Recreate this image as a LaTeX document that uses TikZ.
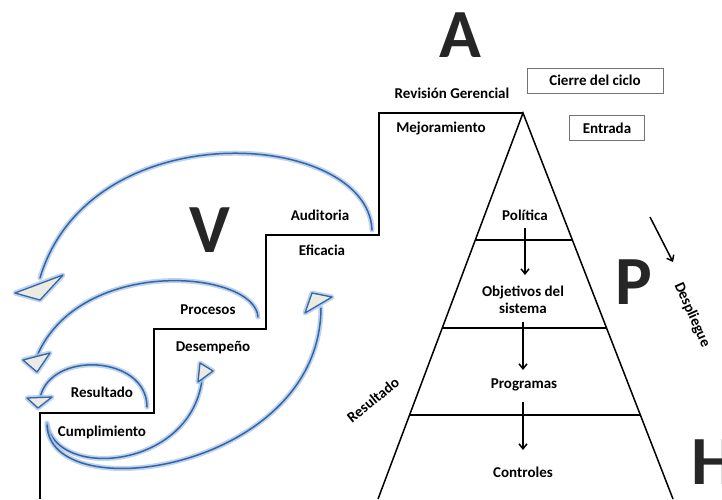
\documentclass[tikz,border=0pt]{standalone}
\usepackage{fontspec}
\setmainfont{Carlito}
\usetikzlibrary{arrows.meta,calc}
\definecolor{bluel}{HTML}{3465A4}
\definecolor{glowc}{HTML}{A9C4E8}
\definecolor{headf}{HTML}{ECEBE3}
\begin{document}
\begin{tikzpicture}[x=1pt,y=-1pt,
  lbl/.style={font=\bfseries\fontsize{15}{17}\selectfont, inner sep=0pt, align=center},
  big/.style={font=\bfseries\fontsize{69}{69}\selectfont, text=black!85, inner sep=0pt},
  stair/.style={draw=black, line width=1.8pt, line join=miter},
  pyr/.style={draw=black, line width=1.5pt},
  boxlbl/.style={lbl, draw=black!55, line width=0.9pt, minimum height=25pt},
  glow/.style={draw=bluel, line width=1.5pt, line cap=round,
     preaction={draw=glowc, line width=5pt, opacity=0.75, line cap=round}},
  head/.style={fill=headf, draw=bluel, line width=1.3pt, line join=round,
     preaction={draw=glowc, line width=5pt, opacity=0.75, line join=round}},
  down/.style={draw=black, line width=1.5pt, -{Straight Barb[length=5pt,width=8pt]}}
]
\useasboundingbox (0,0) rectangle (722,499);

% staircase
\coordinate (s0) at (40,499);
\coordinate (s1) at (40,413);
\coordinate (s2) at (154,413);
\coordinate (s3) at (154,329);
\coordinate (s4) at (266,329);
\coordinate (s5) at (266,235);
\coordinate (s6) at (379,235);
\coordinate (s7) at (379,113);
\coordinate (apex) at (523,113);
\coordinate (bl) at (378,499);
\coordinate (br) at (673,499);
\draw[stair] (s0) -- (s1) -- (s2) -- (s3) -- (s4) -- (s5) -- (s6) -- (s7) -- (apex);

% pyramid
\draw[pyr, line join=miter] (bl) -- (apex) -- (br);
\coordinate (l1) at ($(apex)!0.329!(bl)$);
\coordinate (r1) at ($(apex)!0.329!(br)$);
\coordinate (l2) at ($(apex)!0.557!(bl)$);
\coordinate (r2) at ($(apex)!0.557!(br)$);
\coordinate (l3) at ($(apex)!0.782!(bl)$);
\coordinate (r3) at ($(apex)!0.782!(br)$);
\draw[pyr] (l1) -- (r1);
\draw[pyr] (l2) -- (r2);
\draw[pyr] (l3) -- (r3);

% pyramid labels
\node[lbl] (pol) at (525,215) {Política};
\node[lbl] (obj) at (523,300) {Objetivos del\\sistema};
\node[lbl] (prog) at (524,385) {Programas};
\node[lbl] (ctrl) at (523,472) {Controles};
\coordinate (a1s) at (525,228);
\coordinate (a1e) at (525,275);
\coordinate (a2s) at (523,322);
\coordinate (a2e) at (523,370);
\coordinate (a3s) at (523,402);
\coordinate (a3e) at (523,450);
\draw[down] (a1s) -- (a1e);
\draw[down] (a2s) -- (a2e);
\draw[down] (a3s) -- (a3e);

% top labels
\node[lbl] (rev) at (452,93) {Revisión Gerencial};
\node[lbl] (mej) at (441,128) {Mejoramiento};
\node[boxlbl, minimum width=136pt] (cierre) at (595,80.5) {Cierre del ciclo};
\node[boxlbl, minimum width=75pt] (entr) at (607,128) {Entrada};

% big letters
\node[big] (A) at (460,35) {A};
\node[big] (V) at (210,230) {V};
\node[big] (P) at (634,282) {P};
\node[big] (H) at (713,462) {H};

% despliegue
\coordinate (d1) at (650,217);
\coordinate (d2) at (673,262);
\draw[down] (d1) -- (d2);
\node[lbl, rotate=-66] (desp) at (692,315) {Despliegue};
\node[lbl, rotate=39] (res2) at (373,400) {Resultado};

% left labels
\node[lbl] (aud) at (320,215) {Auditoria};
\node[lbl] (efi) at (322,250) {Eficacia};
\node[lbl] (proc) at (208,310) {Procesos};
\node[lbl] (des) at (213,348) {Desempeño};
\node[lbl] (res) at (102,392) {Resultado};
\node[lbl] (cum) at (102,432) {Cumplimiento};

% curved arrows
\coordinate (c1s) at (372,230);
\coordinate (c1e) at (40,278);
\coordinate (c2s) at (258,317);
\coordinate (c2e) at (37,356);
\coordinate (c3s) at (147,407);
\coordinate (c3e) at (40,398);
\coordinate (c4s) at (47,423);
\coordinate (c4e) at (202,380);
\coordinate (c5s) at (47,425);
\coordinate (c5e) at (321,308);
\draw[glow] (c1s) .. controls (368,130) and (90,110) .. (c1e);
\draw[glow] (c2s) .. controls (255,270) and (80,255) .. (c2e);
\draw[glow] (c3s) .. controls (147,355) and (50,350) .. (c3e);
\draw[glow] (c4s) .. controls (55,480) and (190,470) .. (c4e);
\draw[glow] (c5s) .. controls (50,510) and (320,470) .. (c5e);

% arrow heads
\draw[head] (15,293) -- (63,275) -- (40,300) -- cycle;
\draw[head] (23,360) -- (50,353) -- (37,372) -- cycle;
\draw[head] (27,398) -- (52,397) -- (38,408) -- cycle;
\draw[head] (200,363) -- (213,371) -- (198,382) -- cycle;
\draw[head] (312,293) -- (332,297) -- (305,313) -- cycle;
\end{tikzpicture}
\end{document}
